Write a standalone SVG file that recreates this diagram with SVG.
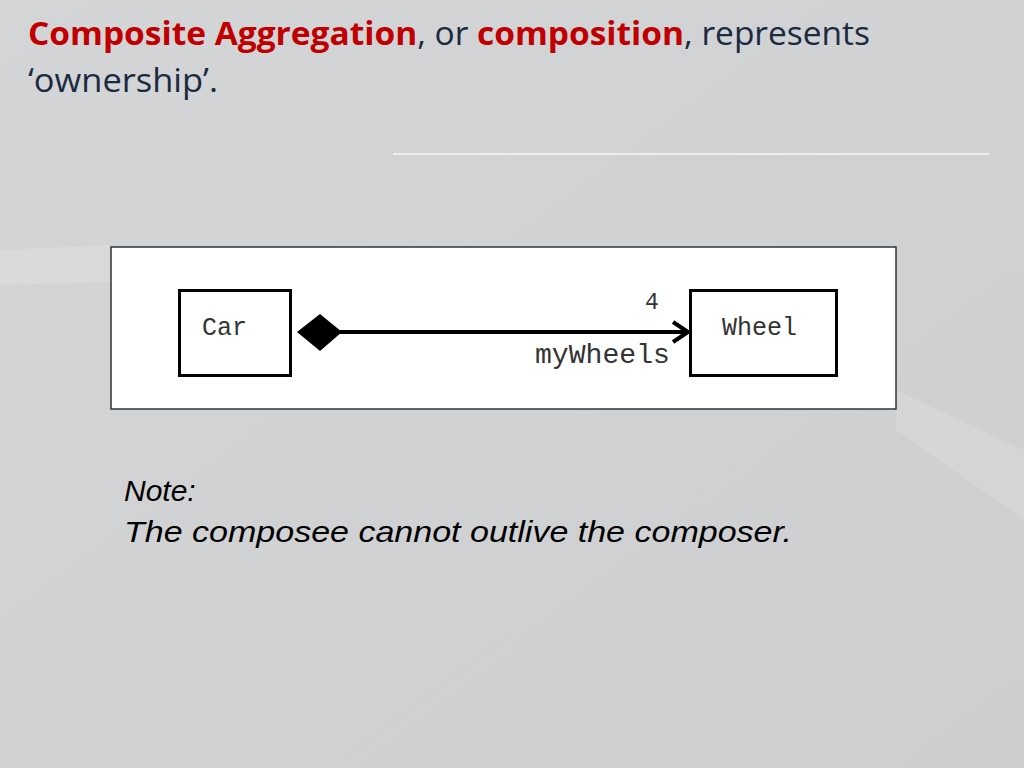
<svg xmlns="http://www.w3.org/2000/svg" width="1024" height="768" viewBox="0 0 1024 768">
<defs>
<linearGradient id="bg" x1="0" y1="0" x2="1" y2="1">
<stop offset="0" stop-color="#d4d5d7"/>
<stop offset="1" stop-color="#cdced0"/>
</linearGradient>
<style>
.title{font-family:"Open Sans","Liberation Sans",sans-serif;font-size:33px;fill:#1b2a40}
.red{fill:#c00000;font-weight:bold}
.cls{fill:#fff;stroke:#000;stroke-width:3}
.mono{font-family:"Liberation Mono","DejaVu Sans Mono",monospace;fill:#333}
.note{font-family:"Liberation Sans",Arial,sans-serif;font-style:italic;font-size:30px;fill:#000}
</style>
</defs>
<rect width="1024" height="768" fill="url(#bg)"/>
<polygon points="0,250 110,245 110,282 0,285" fill="#dcdddf" opacity="0.6"/>
<polygon points="896,390 1024,450 1024,520 896,430" fill="#dadbdd" opacity="0.5"/>
<text class="title" x="28" y="45" textLength="842" lengthAdjust="spacingAndGlyphs"><tspan class="red">Composite Aggregation</tspan>, or <tspan class="red">composition</tspan>, represents</text>
<text class="title" x="28" y="92" textLength="190" lengthAdjust="spacingAndGlyphs">‘ownership’.</text>
<line x1="393" y1="154" x2="989" y2="154" stroke="#eeeeef" stroke-width="2"/>
<g id="frame">
<rect x="111" y="247" width="785" height="162" fill="#fff" stroke="#333" stroke-width="1.5"/>
</g>
<g id="car">
<rect class="cls" x="179.5" y="290.5" width="111" height="85"/>
<text class="mono" x="202" y="335" font-size="25">Car</text>
</g>
<g id="wheel">
<rect class="cls" x="690.5" y="290.5" width="146" height="85"/>
<text class="mono" x="722" y="335" font-size="25">Wheel</text>
</g>
<g id="connectors">
<polygon points="297,332 320,314 342,332 320,351" fill="#000"/>
<line x1="340" y1="332" x2="686" y2="332" stroke="#000" stroke-width="4"/>
<polyline points="673,322 688,332 673,342" fill="none" stroke="#000" stroke-width="4" stroke-linejoin="miter"/>
<text class="mono" x="645" y="309" font-size="23">4</text>
<text class="mono" x="535" y="363" font-size="27.5" textLength="135" lengthAdjust="spacingAndGlyphs">myWheels</text>
</g>
<text class="note" x="124" y="501">Note:</text>
<text class="note" x="124" y="542" textLength="668" lengthAdjust="spacingAndGlyphs">The composee cannot outlive the composer.</text>
</svg>
